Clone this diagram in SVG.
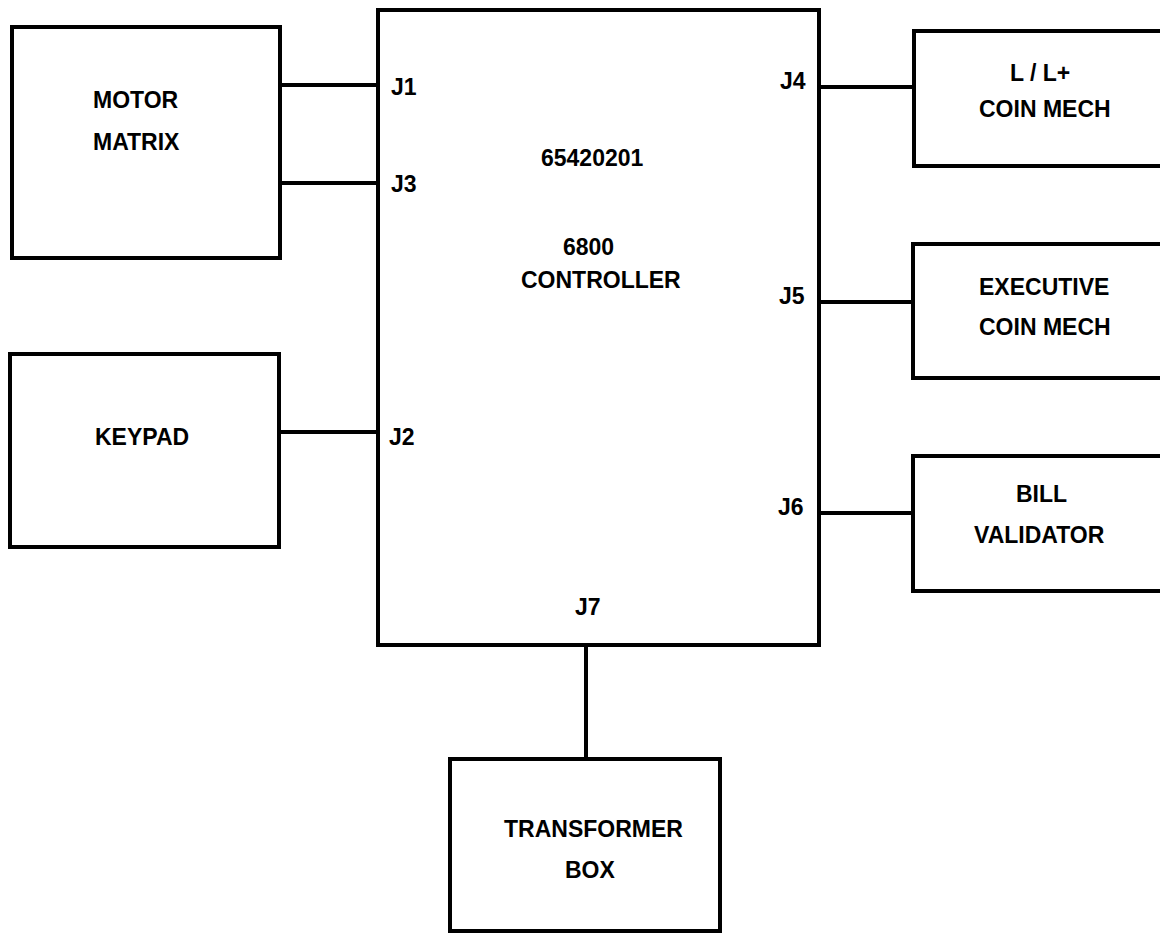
<svg xmlns="http://www.w3.org/2000/svg" width="1160" height="934" viewBox="0 0 1160 934">
<style>
.box{fill:none;stroke:#000;stroke-width:4}
.ln{stroke:#000;stroke-width:4;fill:none}
text{font-family:"Liberation Sans",Arial,sans-serif;font-size:23px;font-weight:bold;fill:#000}
</style>
<rect width="1160" height="934" fill="#fff"/>
<g id="connectors">
<line class="ln" x1="280" y1="85" x2="378" y2="85"/>
<line class="ln" x1="280" y1="183" x2="378" y2="183"/>
<line class="ln" x1="279" y1="432" x2="378" y2="432"/>
<line class="ln" x1="819" y1="87" x2="914" y2="87"/>
<line class="ln" x1="819" y1="302" x2="913" y2="302"/>
<line class="ln" x1="819" y1="513" x2="913" y2="513"/>
<line class="ln" x1="586" y1="645" x2="586" y2="759"/>
</g>
<g id="controller">
<rect class="box" x="378" y="10" width="441" height="635"/>
<text x="541" y="166">65420201</text>
<text x="563" y="255">6800</text>
<text x="521" y="288">CONTROLLER</text>
<text x="391" y="95">J1</text>
<text x="391" y="192">J3</text>
<text x="389" y="445">J2</text>
<text x="780" y="89">J4</text>
<text x="779" y="304">J5</text>
<text x="778" y="515">J6</text>
<text x="575" y="615">J7</text>
</g>
<g id="motor-matrix">
<rect class="box" x="12" y="27" width="268" height="231"/>
<text x="93" y="108">MOTOR</text>
<text x="93" y="150">MATRIX</text>
</g>
<g id="keypad">
<rect class="box" x="10" y="354" width="269" height="193"/>
<text x="95" y="445">KEYPAD</text>
</g>
<g id="coin-mech-l">
<rect class="box" x="914" y="31" width="260" height="135"/>
<text x="1010" y="81">L / L+</text>
<text x="979" y="117">COIN MECH</text>
</g>
<g id="executive-coin-mech">
<rect class="box" x="913" y="244" width="260" height="134"/>
<text x="979" y="295">EXECUTIVE</text>
<text x="979" y="335">COIN MECH</text>
</g>
<g id="bill-validator">
<rect class="box" x="913" y="456" width="260" height="135"/>
<text x="1016" y="502">BILL</text>
<text x="974" y="543">VALIDATOR</text>
</g>
<g id="transformer-box">
<rect class="box" x="450" y="759" width="270" height="172"/>
<text x="504" y="837">TRANSFORMER</text>
<text x="565" y="878">BOX</text>
</g>
</svg>
